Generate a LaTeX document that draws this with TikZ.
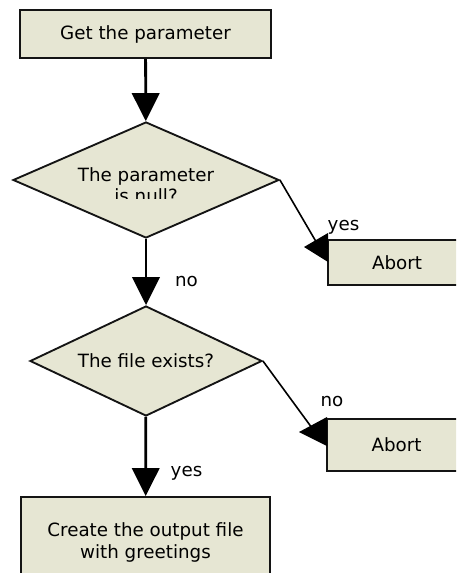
\documentclass[tikz,border=0pt]{standalone}
\usepackage{fontspec}
\setmainfont{DejaVu Sans}
\usetikzlibrary{shapes.geometric,arrows.meta}
\definecolor{boxfill}{RGB}{230,230,211}
\definecolor{edge}{RGB}{20,20,20}
\tikzset{
  stepbox/.style={draw=edge, line width=1.4pt, fill=boxfill, rectangle, inner sep=0pt, align=center},
  decision/.style={draw=edge, line width=1.4pt, fill=boxfill, diamond, inner sep=0pt, shape aspect=2.2},
  flow/.style={draw=black, line width=2.1pt, -{Triangle[length=21pt,width=20.5pt]}},
  side/.style={draw=black, line width=1.2pt},
  tiplabel/.style={anchor=base, inner sep=0pt},
}
\begin{document}
\begin{tikzpicture}[x=0.75pt, y=-0.75pt, font=\fontsize{13.7}{16}\selectfont]
\useasboundingbox (0,0) rectangle (456,573);
\clip (0,0) rectangle (456,573);

% steps
\node[stepbox, minimum width=188.25pt, minimum height=36pt] (get) at (145.5,34) {Get the parameter};
\node[decision, minimum width=199.5pt, minimum height=87pt] (isnull) at (146,180) {};
\begin{scope}
  \clip (0,0) rectangle (456,198.5);
  \node[align=center, inner sep=0pt, font=\fontsize{13.7}{15.8}\selectfont] (isnulltext) at (146,185) {The parameter\\is null?};
\end{scope}
\node[stepbox, minimum width=103.5pt, minimum height=33.75pt] (abort1) at (397,262.5) {Abort};
\node[decision, minimum width=174pt, minimum height=82.5pt] (exists) at (146,361) {The file exists?};
\node[stepbox, minimum width=104.25pt, minimum height=39pt] (abort2) at (396.5,445) {Abort};
\node[stepbox, minimum width=186.75pt, minimum height=67.5pt, font=\fontsize{13.7}{16.5}\selectfont] (create) at (145.5,542) {Create the output file\\with greetings};

% main flow
\draw[flow] (get) -- (isnull);
\draw[flow] (isnull) -- (exists);
\draw[flow] (exists) -- (create);

% side branches
\coordinate (end1) at (318,245);
\draw[side] (isnull.east) -- (end1);
\fill[black] (304,247) -- (328,233) -- (328,262) -- cycle;
\coordinate (end2) at (312,428);
\draw[side] (exists.east) -- (end2);
\fill[black] (299,432) -- (327,417) -- (327,446) -- cycle;

% branch labels
\node[tiplabel] (lyes1) at (343.5,230) {yes};
\node[tiplabel] (lno1) at (186.5,286) {no};
\node[tiplabel] (lno2) at (332,406.5) {no};
\node[tiplabel] (lyes2) at (186.5,476) {yes};
\end{tikzpicture}
\end{document}
